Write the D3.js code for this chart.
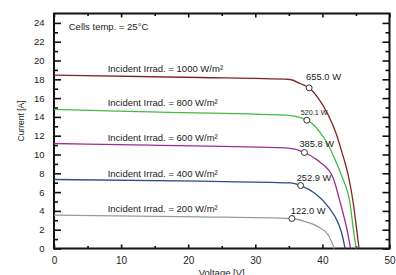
<!DOCTYPE html>
<html>
<head>
<meta charset="utf-8">
<script src="https://cdn.jsdelivr.net/npm/d3@7"></script>
<style>
  body { margin: 0; background: #fff; }
  svg text { font-family: "Liberation Sans", Arial, sans-serif; fill: #222; }
</style>
</head>
<body>
<div id="container"></div>
<script>
// Chart size
const width = 396;
const height = 275;

// Data (voltage in V, current in A)
const irradiance = [1000, 800, 600, 400, 200];

const volt1000 = [0, 21.8, 35.19, 36.68, 38.02, 39.4, 40.89, 42.14, 42.89, 43.48, 43.9, 44.61, 45.06, 45.46];
const amp1000  = [18.44, 18.19, 17.98, 17.55, 17.09, 15.96, 14.18, 12.05, 10.28, 8.86, 7.62, 4.79, 2.30, 0];

const volt800 = [0, 14.36, 34.45, 37.68, 39.4, 40.89, 42.14, 42.93, 44.12, 44.57, 45.01];
const amp800  = [14.79, 14.53, 14.18, 13.65, 12.59, 10.99, 9.04, 7.62, 4.79, 2.30, 0];

const volt600 = [0, 14.36, 34.45, 37.32, 38.91, 39.66, 41.59, 42.56, 43.68, 44.2];
const amp600  = [11.17, 10.99, 10.70, 10.21, 9.57, 9.18, 7.53, 5.14, 1.95, 0];

const volt400 = [0, 21.8, 35.19, 36.76, 38.91, 40.89, 42.38, 42.89, 43.38];
const amp400  = [7.34, 7.16, 6.98, 6.70, 5.85, 4.43, 2.66, 1.6, 0];

const volt200 = [0, 21.8, 35.45, 37.43, 39.4, 40.89, 41.79];
const amp200  = [3.54, 3.37, 3.19, 2.85, 2.30, 1.41, 0];

// Maximum power points
const pmaxWatt = [655.0, 520.1, 385.8, 252.9, 122.0];
const mppVolt  = [38.02, 37.68, 37.32, 36.76, 35.45];
const mppAmp   = [17.09, 13.65, 10.21, 6.70, 3.19];

// Tick values
const xTicks = [0, 10, 20, 30, 40, 50];
const xMinor = [5, 15, 25, 35, 45];
const yTicks = d3.range(0, 25, 2);
const yMinor = d3.range(1, 25, 2);

const volts = [volt1000, volt800, volt600, volt400, volt200];
const amps  = [amp1000, amp800, amp600, amp400, amp200];

// Styles
const colors = ["#7d2424", "#45b845", "#9c2f94", "#2c4a8c", "#9a9a9a"];
// label offsets for the power labels (dx, dy, font size)
const pLabelLayout = [[-3, -7.5, 9.4], [-6, -5, 7.2], [-5, -5.5, 9.3], [-4, -5, 9.3], [-1, -5, 9.3]];

const x = d3.scaleLinear().domain([0, 50]).range([54, 389.5]);
const y = d3.scaleLinear().domain([0, 25]).range([248.5, 13.5]);

const svg = d3.create("svg")
    .attr("width", width)
    .attr("height", height);

svg.append("rect").attr("width", width).attr("height", height).attr("fill", "#fff");

// Axes with inward ticks
function styleAxis(g) {
  g.select(".domain").remove();
  g.selectAll(".tick line").attr("stroke", "#111").attr("stroke-width", 1.6);
  g.selectAll("text").attr("font-family", null).style("fill", "#222");
}

svg.append("g")
    .attr("transform", `translate(${x(0)},0)`)
    .call(d3.axisLeft(y).tickValues(yTicks).tickSize(-7).tickPadding(9.5))
    .call(styleAxis)
    .selectAll("text").attr("font-size", "9.5px");
svg.append("g")
    .attr("transform", `translate(${x(0)},0)`)
    .call(d3.axisLeft(y).tickValues(yMinor).tickSize(-4).tickFormat(""))
    .call(styleAxis);
svg.append("g")
    .attr("transform", `translate(${x(50)},0)`)
    .call(d3.axisRight(y).tickValues(yTicks).tickSize(-7).tickFormat(""))
    .call(styleAxis);
svg.append("g")
    .attr("transform", `translate(${x(50)},0)`)
    .call(d3.axisRight(y).tickValues(yMinor).tickSize(-4).tickFormat(""))
    .call(styleAxis);

svg.append("g")
    .attr("transform", `translate(0,${y(0)})`)
    .call(d3.axisBottom(x).tickValues(xTicks).tickSize(-4).tickPadding(8))
    .call(styleAxis)
    .selectAll("text").attr("font-size", "10px");
svg.append("g")
    .attr("transform", `translate(0,${y(0)})`)
    .call(d3.axisBottom(x).tickValues(xMinor).tickSize(-2.5).tickFormat(""))
    .call(styleAxis);
svg.append("g")
    .attr("transform", `translate(0,${y(25)})`)
    .call(d3.axisTop(x).tickValues(xTicks).tickSize(-4).tickFormat(""))
    .call(styleAxis);
svg.append("g")
    .attr("transform", `translate(0,${y(25)})`)
    .call(d3.axisTop(x).tickValues(xMinor).tickSize(-2.5).tickFormat(""))
    .call(styleAxis);

// Frame
svg.append("rect")
    .attr("x", x(0))
    .attr("y", y(25))
    .attr("width", x(50) - x(0))
    .attr("height", y(0) - y(25))
    .attr("fill", "none")
    .attr("stroke", "#111")
    .attr("stroke-width", 2);

// Curves
const line = d3.line()
    .x(d => x(d[0]))
    .y(d => y(d[1]))
    .curve(d3.curveMonotoneX);

irradiance.forEach((irr, i) => {
  const pts = volts[i].map((v, k) => [v, amps[i][k]]);
  svg.append("path")
      .datum(pts)
      .attr("fill", "none")
      .attr("stroke", colors[i])
      .attr("stroke-width", 1.3)
      .attr("d", line);

  svg.append("text")
      .attr("x", x(8))
      .attr("y", y(amps[i][0]) - 3)
      .attr("font-size", "9.5px")
      .text(`Incident Irrad. = ${irr} W/m²`);
});

// Maximum power markers and labels
pmaxWatt.forEach((p, i) => {
  const cx = x(mppVolt[i]);
  const cy = y(mppAmp[i]);
  const [dx, dy, fs] = pLabelLayout[i];
  svg.append("text")
      .attr("x", cx + dx)
      .attr("y", cy + dy)
      .attr("font-size", fs + "px")
      .text(`${p.toFixed(1)} W`);
  svg.append("circle")
      .attr("cx", cx)
      .attr("cy", cy)
      .attr("r", 3)
      .attr("fill", "#fff")
      .attr("stroke", "#333")
      .attr("stroke-width", 1);
});

// Annotation
svg.append("text")
    .attr("x", x(2.2))
    .attr("y", 29.5)
    .attr("font-size", "9.5px")
    .text("Cells temp. = 25°C");

// Axis titles
svg.append("text")
    .attr("x", (x(0) + x(50)) / 2)
    .attr("y", 276)
    .attr("text-anchor", "middle")
    .attr("font-size", "9.5px")
    .text("Voltage [V]");

svg.append("text")
    .attr("transform", `translate(24,121) rotate(-90)`)
    .attr("text-anchor", "middle")
    .attr("font-size", "8.5px")
    .text("Current [A]");

container.append(svg.node());
</script>
</body>
</html>
